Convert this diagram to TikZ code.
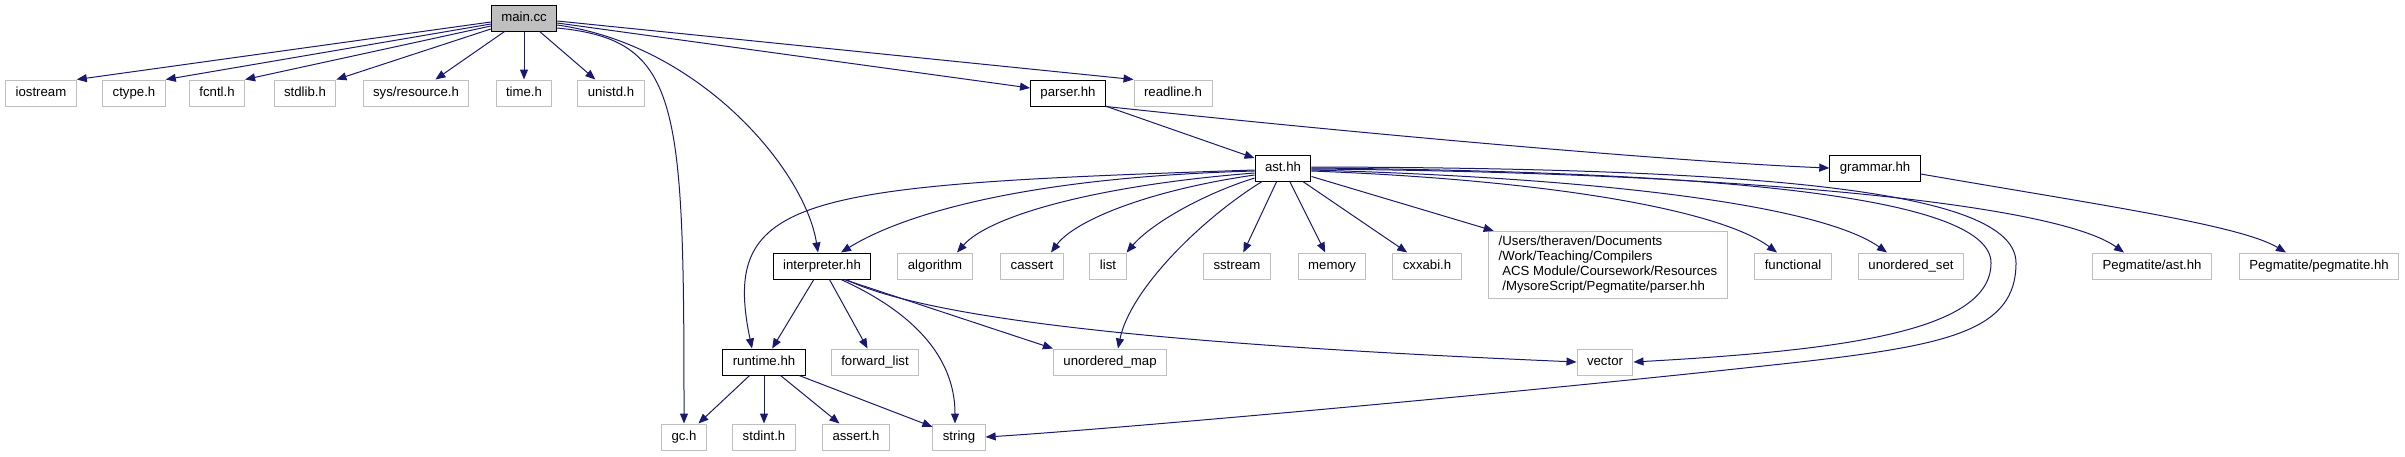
\documentclass[tikz,border=0pt]{standalone}
\usepackage{fontspec}
\setmainfont{Liberation Sans}
\usetikzlibrary{arrows.meta}
\definecolor{edgeblue}{HTML}{191970}
\definecolor{hdrgray}{HTML}{BFBFBF}
\tikzset{
    file/.style={
        line width=1pt,
        inner xsep=10pt,
        font=\fontsize{13.2}{15}\selectfont
    },
    onefile/.style={
        file,
        minimum height=26pt,
        inner ysep=0pt,
        text height=9.5pt,
        text depth=3pt
    },
    sysfile/.style={onefile, draw=hdrgray},
    ownfile/.style={onefile, draw=black},
    rootfile/.style={onefile, draw=black, fill=hdrgray},
    pathfile/.style={file, draw=hdrgray, align=left, inner ysep=5pt},
    dep/.style={-{Triangle[length=10pt,width=8pt]}, edgeblue, line width=1pt}
}

\begin{document}
\begin{tikzpicture}[x=1pt, y=-1pt]
    \useasboundingbox (0,0) rectangle (2405,456);
    \node[rootfile] (main) at (524,18) {main.cc};
    \node[sysfile] (iostream) at (41,93) {iostream};
    \node[sysfile] (ctype) at (134,93) {ctype.h};
    \node[sysfile] (fcntl) at (217,93) {fcntl.h};
    \node[sysfile] (stdlib) at (305,93) {stdlib.h};
    \node[sysfile] (sysres) at (416,93) {sys/resource.h};
    \node[sysfile] (time) at (524,93) {time.h};
    \node[sysfile] (unistd) at (611,93) {unistd.h};
    \node[ownfile] (parser) at (1068,93) {parser.hh};
    \node[sysfile] (readline) at (1173,93) {readline.h};
    \node[ownfile] (ast) at (1283,168) {ast.hh};
    \node[ownfile] (grammar) at (1875,168) {grammar.hh};
    \node[ownfile] (interp) at (822,266) {interpreter.hh};
    \node[sysfile] (algorithm) at (935,266) {algorithm};
    \node[sysfile] (cassert) at (1032,266) {cassert};
    \node[sysfile] (list) at (1108,266) {list};
    \node[sysfile] (sstream) at (1237,266) {sstream};
    \node[sysfile] (memory) at (1332,266) {memory};
    \node[sysfile] (cxxabi) at (1427,266) {cxxabi.h};
    \node[pathfile] (pegparser) at (1608,265) {/Users/theraven/Documents\\/Work/Teaching/Compilers\\\ ACS Module/Coursework/Resources\\\ /MysoreScript/Pegmatite/parser.hh};
    \node[sysfile] (functional) at (1793,266) {functional};
    \node[sysfile] (uset) at (1911,266) {unordered\_set};
    \node[sysfile] (pegast) at (2152,266) {Pegmatite/ast.hh};
    \node[sysfile] (pegm) at (2319,266) {Pegmatite/pegmatite.hh};
    \node[ownfile] (runtime) at (764,362) {runtime.hh};
    \node[sysfile] (fwdlist) at (875,362) {forward\_list};
    \node[sysfile] (umap) at (1110,362) {unordered\_map};
    \node[sysfile] (vector) at (1605,362) {vector};
    \node[sysfile] (gc) at (684,437) {gc.h};
    \node[sysfile] (stdint) at (764,437) {stdint.h};
    \node[sysfile] (assert) at (856,437) {assert.h};
    \node[sysfile] (string) at (959,437) {string};

    \draw[dep] ([yshift=-4pt]main.west) -- (iostream.north east);
    \draw[dep] ([yshift=-6pt]main.west) -- (ctype.north east);
    \draw[dep] ([yshift=-8pt]main.west) -- (fcntl.north east);
    \draw[dep] ([yshift=-11pt]main.west) -- (stdlib.north east);
    \draw[dep] (main) -- (sysres);
    \draw[dep] (main) -- (time);
    \draw[dep] (main) -- (unistd);
    \draw[dep] ([yshift=-10pt]main.east) .. controls (680,40) and (684,100) .. (gc.north);
    \draw[dep] ([yshift=-7pt]main.east) .. controls (700,45) and (805,170) .. ([xshift=-4pt]interp.north);
    \draw[dep] ([yshift=-5pt]main.east) -- ([yshift=5pt]parser.west);
    \draw[dep] ([yshift=-3pt]main.east) -- (readline.north west);

    \draw[dep] (parser) -- (ast);
    \draw[dep] (parser.south east) .. controls (1400,138) and (1700,163) .. (grammar.west);
    \draw[dep] ([yshift=-6pt]grammar.east) .. controls (2100,205) and (2240,225) .. ([xshift=-33pt]pegm.north);

    \draw[dep] ([yshift=-2pt]ast.west) .. controls (800,185) and (720,195) .. ([xshift=-12pt]runtime.north);
    \draw[dep] ([yshift=-3pt]ast.west) .. controls (1000,178) and (890,222) .. ([xshift=19pt]interp.north);
    \draw[dep] ([yshift=-5pt]ast.west) .. controls (1100,185) and (990,215) .. ([xshift=22pt]algorithm.north);
    \draw[dep] ([yshift=-7pt]ast.west) .. controls (1150,190) and (1075,220) .. ([xshift=19pt]cassert.north);
    \draw[dep] ([yshift=-10pt]ast.west) .. controls (1200,195) and (1150,225) .. (list.north east);
    \draw[dep] ([xshift=-21pt]ast.south) .. controls (1200,220) and (1130,290) .. ([xshift=8pt]umap.north);
    \draw[dep] (ast) -- (sstream);
    \draw[dep] (ast) -- (memory);
    \draw[dep] (ast) -- (cxxabi);
    \draw[dep] (ast) -- (pegparser);
    \draw[dep] ([yshift=-3pt]ast.east) .. controls (1550,180) and (1720,210) .. ([xshift=-16pt]functional.north);
    \draw[dep] ([yshift=-2pt]ast.east) .. controls (1600,178) and (1820,205) .. ([xshift=-24pt]uset.north);
    \draw[dep] ([yshift=-1pt]ast.east) .. controls (1700,172) and (2050,200) .. ([xshift=-28pt]pegast.north);
    \draw[dep] (ast.east) .. controls (1750,172) and (1991,200) .. (1991,263) .. controls (1991,330) and (1850,350) .. (vector.east);
    \draw[dep] ([yshift=1pt]ast.east) .. controls (1800,168) and (2016,195) .. (2016,263) .. controls (2016,330) and (1950,345) .. (1800,362) .. controls (1500,395) and (1100,430) .. (string.east);

    \draw[dep] (interp) -- (runtime);
    \draw[dep] (interp) -- (fwdlist);
    \draw[dep] ([xshift=19pt]interp.south) .. controls (930,320) and (955,370) .. ([xshift=-4pt]string.north);
    \draw[dep] ([xshift=22pt]interp.south) -- (umap.north west);
    \draw[dep] ([xshift=24pt]interp.south) .. controls (950,330) and (1300,350) .. (vector.west);

    \draw[dep] (runtime) -- (gc);
    \draw[dep] (runtime) -- (stdint);
    \draw[dep] (runtime) -- (assert);
    \draw[dep] (runtime) -- (string);
\end{tikzpicture}
\end{document}
